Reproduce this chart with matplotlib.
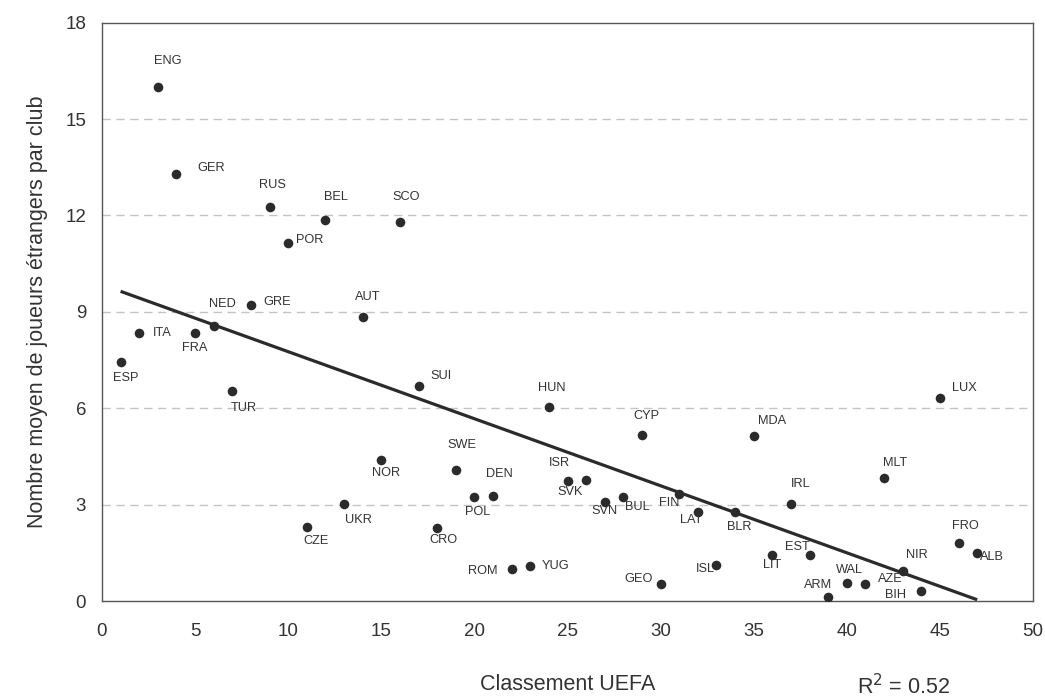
import numpy as np
import matplotlib
matplotlib.use("Agg")
import matplotlib.pyplot as plt

countries = ["ESP", "ITA", "ENG", "GER", "FRA", "NED", "TUR", "GRE", "RUS", "POR",
             "CZE", "BEL", "UKR", "AUT", "NOR", "SCO", "SUI", "CRO", "SWE", "POL",
             "DEN", "ROM", "YUG", "HUN", "ISR", "SVK", "SVN", "BUL", "CYP", "GEO",
             "FIN", "LAT", "ISL", "BLR", "MDA", "LIT", "IRL", "EST", "ARM", "WAL",
             "AZE", "MLT", "NIR", "BIH", "LUX", "FRO", "ALB"]
rank = [1, 2, 3, 4, 5, 6, 7, 8, 9, 10,
        11, 12, 13, 14, 15, 16, 17, 18, 19, 20,
        21, 22, 23, 24, 25, 26, 27, 28, 29, 30,
        31, 32, 33, 34, 35, 36, 37, 38, 39, 40,
        41, 42, 43, 44, 45, 46, 47]
foreigners = [7.45, 8.35, 16.0, 13.3, 8.35, 8.55, 6.55, 9.2, 12.25, 11.15,
              2.3, 11.85, 3.03, 8.85, 4.38, 11.8, 6.68, 2.27, 4.08, 3.23,
              3.28, 0.99, 1.08, 6.04, 3.73, 3.78, 3.08, 3.23, 5.18, 0.52,
              3.33, 2.78, 1.12, 2.78, 5.14, 1.42, 3.03, 1.42, 0.12, 0.57,
              0.52, 3.82, 0.92, 0.31, 6.33, 1.80, 1.49]

# label offsets in pixels (dx, dy) relative to each point (dy positive = up)
label_offsets = {
    "ESP": (5, -16), "ITA": (23, 0), "ENG": (10, 26), "GER": (35, 6), "FRA": (0, -15),
    "NED": (9, 22), "TUR": (11, -17), "GRE": (26, 3), "RUS": (3, 22), "POR": (21, 3),
    "CZE": (9, -14), "BEL": (10, 23), "UKR": (14, -16), "AUT": (5, 20), "NOR": (5, -13),
    "SCO": (6, 25), "SUI": (22, 10), "CRO": (6, -12), "SWE": (6, 25), "POL": (3, -15),
    "DEN": (6, 22), "ROM": (-29, -2), "YUG": (25, 0), "HUN": (3, 19), "ISR": (-8, 18),
    "SVK": (-16, -12), "SVN": (0, -9), "BUL": (14, -10), "CYP": (4, 19), "GEO": (-22, 5),
    "FIN": (-10, -9), "LAT": (-7, -8), "ISL": (-11, -4), "BLR": (4, -15), "MDA": (18, 15),
    "LIT": (0, -10), "IRL": (10, 20), "EST": (-12, 8), "ARM": (-10, 12), "WAL": (3, 13),
    "AZE": (25, 5), "MLT": (11, 15), "NIR": (14, 16), "BIH": (-26, -4), "LUX": (24, 10),
    "FRO": (7, 17), "ALB": (15, -4),
}

y_ticks = [0, 3, 6, 9, 12, 15, 18]
x_ticks = [0, 5, 10, 15, 20, 25, 30, 35, 40, 45, 50]

plt.rcParams['font.family'] = ['Liberation Sans', 'DejaVu Sans']

dark = "#2b2b2b"
text_c = "#333333"

W, H = 1045, 699
fig = plt.figure(figsize=(W / 100, H / 100), dpi=100)
ax_l, ax_r, ax_t, ax_b = 102, 1033, 22.7, 601
ax = fig.add_axes([ax_l / W, 1 - ax_b / H, (ax_r - ax_l) / W, (ax_b - ax_t) / H])

ax.set_xlim(0, 50)
ax.set_ylim(0, 18)

for yv in y_ticks[1:-1]:
    ax.axhline(yv, color="#c9c2c2", lw=1.0, ls=(0, (6, 4)), zorder=1)

x = np.array(rank, dtype=float)
y = np.array(foreigners, dtype=float)
slope, intercept = np.polyfit(x, y, 1)
xs = np.array([x.min(), x.max()])
ax.plot(xs, slope * xs + intercept, color=dark, lw=2.3, zorder=2, solid_capstyle="butt")

ax.scatter(x, y, s=48, color=dark, zorder=3, linewidths=0)

for c, xv, yv in zip(countries, rank, foreigners):
    dx, dy = label_offsets[c]
    ax.annotate(c, (xv, yv), xytext=(dx, dy), textcoords="offset pixels",
                ha="center", va="center", fontsize=9.2, color=text_c, zorder=4)

ax.set_xticks(x_ticks)
ax.set_yticks(y_ticks)
ax.tick_params(axis="both", length=0, labelsize=13.5, colors=text_c)
ax.tick_params(axis="x", pad=15.5)
ax.tick_params(axis="y", pad=11.5)

for sp in ax.spines.values():
    sp.set_color("#555555")
    sp.set_linewidth(1.0)

ax.set_xlabel("Classement UEFA", fontsize=15.5, color=text_c)
ax.xaxis.label.set_va("center")
ax.xaxis.set_label_coords(0.5, (ax_b - 685) / (ax_b - ax_t))

ax.set_ylabel("Nombre moyen de joueurs étrangers par club", fontsize=15.5, color=text_c)
ax.yaxis.label.set_va("center")
ax.yaxis.set_label_coords((38 - ax_l) / (ax_r - ax_l), 0.5)

fig.text(904 / W, 1 - 687 / H, "R$^2$ = 0.52", ha="center", va="center",
         fontsize=15.5, color=text_c)

fig.savefig("out.png", dpi=100)
